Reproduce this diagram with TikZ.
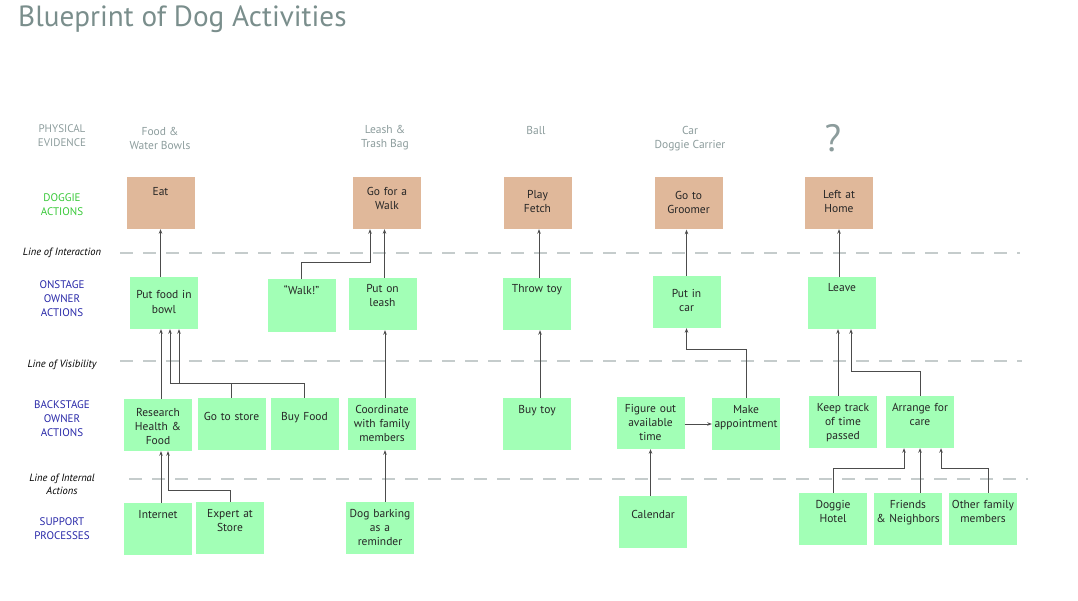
\documentclass[tikz,border=0pt]{standalone}
\usepackage{fontspec}
\setmainfont{PT Sans}
\usetikzlibrary{arrows.meta}
\definecolor{tanbox}{HTML}{E0B89A}
\definecolor{greenbox}{HTML}{A2FFB6}
\definecolor{greytext}{HTML}{8C9C9C}
\definecolor{titlegrey}{HTML}{7A8E8C}
\definecolor{dashgrey}{HTML}{C5CCCC}
\definecolor{lblgreen}{HTML}{38C838}
\definecolor{lblblue}{HTML}{2828A8}
\begin{document}
\begin{tikzpicture}[x=1pt,y=-1pt,
  actbox/.style={minimum width=68, minimum height=52, text width=68, inner sep=0, align=center,
    text height=15, text depth=37, font=\fontsize{11.5}{14}\selectfont, text=black!85},
  dogbox/.style={actbox, fill=tanbox},
  ownbox/.style={actbox, fill=greenbox},
  lowtext/.style={text height=22, text depth=30},
  midtext/.style={text height=19, text depth=33},
  rowlab/.style={align=center, font=\fontsize{11}{14}\selectfont},
  linelab/.style={align=center, font=\fontsize{10.5}{13}\selectfont\itshape},
  evid/.style={align=center, text=greytext, font=\fontsize{11.5}{14}\selectfont},
  divline/.style={dashgrey, line width=1.6pt, dash pattern=on 13pt off 10pt},
  arr/.style={black!70, line width=1pt, -{Stealth[length=4.5pt,width=3.5pt]}}]
\useasboundingbox (0,0) rectangle (1078,601);
\node[anchor=base west, text=titlegrey, font=\fontsize{29.2}{34}\selectfont, inner sep=0] (title) at (18,27) {Blueprint of Dog Activities};
% row labels
\node[rowlab, text=greytext] (lbevid) at (62,136) {PHYSICAL\\EVIDENCE};
\node[rowlab, text=lblgreen] (lbdog) at (62,205) {DOGGIE\\ACTIONS};
\node[rowlab, text=lblblue] (lbon) at (62,299) {ONSTAGE\\OWNER\\ACTIONS};
\node[rowlab, text=lblblue] (lbback) at (62,418.5) {BACKSTAGE\\OWNER\\ACTIONS};
\node[rowlab, text=lblblue] (lbsup) at (62,529) {SUPPORT\\PROCESSES};
\node[linelab] (lninter) at (62,253) {Line of Interaction};
\node[linelab] (lnvis) at (62,365) {Line of Visibility};
\node[linelab] (lnint) at (62,484.5) {Line of Internal\\Actions};
\draw[divline] (120,253) -- (1020,253);
\draw[divline] (120,361) -- (1022,361);
\draw[divline] (129,479) -- (1028,479);
% physical evidence
\node[evid] (evbowl) at (160,138) {Food \&\\Water Bowls};
\node[evid] (evleash) at (385,138) {Leash \&\\Trash Bag};
\node[evid] (evball) at (536,131) {Ball};
\node[evid] (evcar) at (690,139) {Car\\Doggie Carrier};
\node[text=greytext, font=\fontsize{38}{40}\selectfont] (evquest) at (833,138) {?};
% doggie actions
\node[dogbox, midtext] (eat) at (160.5,203) {Eat};
\node[dogbox, midtext] (gowalk) at (387,203) {Go for a\\Walk};
\node[dogbox, lowtext] (fetch) at (537.5,203) {Play\\Fetch};
\node[dogbox, lowtext] (groomer) at (688.5,203.5) {Go to\\Groomer};
\node[dogbox, lowtext] (lefthome) at (839,203) {Left at\\Home};
% onstage owner actions
\node[ownbox, lowtext] (putfood) at (164,303) {Put food in\\bowl};
\node[ownbox] (walkcall) at (301.5,305.5) {“Walk!”};
\node[ownbox] (leash) at (382.5,304) {Put on\\leash};
\node[ownbox] (throwtoy) at (537,304) {Throw toy};
\node[ownbox, lowtext] (putcar) at (686.5,302) {Put in\\car};
\node[ownbox] (leave) at (842,303) {Leave};
% backstage owner actions
\node[ownbox, text height=17, text depth=35] (research) at (158,425) {Research\\Health \&\\Food};
\node[ownbox, lowtext] (gostore) at (231.5,424) {Go to store};
\node[ownbox, lowtext] (buyfood) at (304.5,424) {Buy Food};
\node[ownbox] (coordinate) at (382,424) {Coordinate\\with family\\members};
\node[ownbox] (buytoy) at (537,424) {Buy toy};
\node[ownbox] (figure) at (650.5,423) {Figure out\\available\\time};
\node[ownbox] (makeapp) at (746,424) {Make\\appointment};
\node[ownbox] (keeptrack) at (843,422) {Keep track\\of time\\passed};
\node[ownbox] (arrange) at (920,422) {Arrange for\\care};
% support processes
\node[ownbox] (internet) at (158,529) {Internet};
\node[ownbox] (expert) at (230,528) {Expert at\\Store};
\node[ownbox] (barking) at (380,528) {Dog barking\\as a\\reminder};
\node[ownbox, lowtext] (calendar) at (653,522) {Calendar};
\node[ownbox] (hotel) at (833,519) {Doggie\\Hotel};
\node[ownbox] (friends) at (908,519) {Friends\\\& Neighbors};
\node[ownbox] (otherfam) at (983,519) {Other family\\members};
% connectors
\draw[arr] (putfood.north -| eat) -- (eat.south);
\draw[arr] ([xshift=3]research.north) -- ([xshift=3]research.north |- putfood.south);
\draw[arr] (gostore.north) -- ++(0,-14) -| ([xshift=6]putfood.south);
\draw[arr] (buyfood.north) -- ++(0,-14) -| ([xshift=15]putfood.south);
\draw[arr] ([xshift=3]internet.north) -- ([xshift=3]internet.north |- research.south);
\draw[arr] (expert.north) -- ++(0,-11) -| ([xshift=10]research.south);
\draw[arr] (walkcall.north) -- ++(0,-17) -| ([xshift=-17]gowalk.south);
\draw[arr] ([xshift=2]leash.north) -- ([xshift=2]leash.north |- gowalk.south);
\draw[arr] ([xshift=3]coordinate.north) -- ([xshift=3]coordinate.north |- leash.south);
\draw[arr] ([xshift=5]barking.north) -- ([xshift=5]barking.north |- coordinate.south);
\draw[arr] ([xshift=2]throwtoy.north) -- ([xshift=2]throwtoy.north |- fetch.south);
\draw[arr] ([xshift=3]buytoy.north) -- ([xshift=3]buytoy.north |- throwtoy.south);
\draw[arr] (putcar.north) -- (putcar.north |- groomer.south);
\draw[arr] (makeapp.north) -- ++(0,-48) -| (putcar.south);
\draw[arr] (figure.east |- makeapp) -- (makeapp.west);
\draw[arr] (calendar.north -| figure) -- (figure.south);
\draw[arr] (leave.north -| lefthome) -- (lefthome.south);
\draw[arr] ([xshift=-5]keeptrack.north) -- ([xshift=-5]keeptrack.north |- leave.south);
\draw[arr] (arrange.north) -- ++(0,-24) -| ([xshift=9]leave.south);
\draw[arr] (hotel.north) -- ++(0,-24) -| ([xshift=-16]arrange.south);
\draw[arr] (friends.north -| arrange) -- (arrange.south);
\draw[arr] ([xshift=5]otherfam.north) -- ++(0,-24) -| ([xshift=21]arrange.south);
\end{tikzpicture}
\end{document}
